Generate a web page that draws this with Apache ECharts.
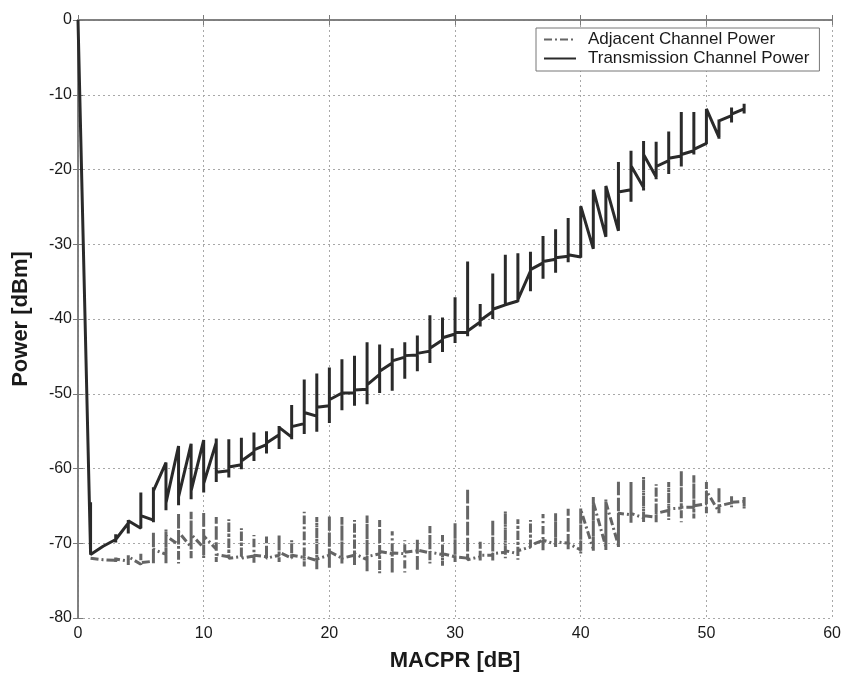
<!DOCTYPE html>
<html>
<head>
<meta charset="utf-8">
<script src="https://cdn.jsdelivr.net/npm/echarts@6/dist/echarts.min.js"></script>
<style>
  html, body { margin: 0; padding: 0; background: #fff; }
  #chart { width: 844px; height: 677px; }
</style>
</head>
<body>
<div id="chart"></div>
<script>
// MACPR steps (dB)
const tcX = [0, 1, 2, 3, 4, 5, 6, 7, 8, 9, 10, 11, 12, 13, 14, 15, 16, 17, 18, 19, 20,
  21, 22, 23, 24, 25, 26, 27, 28, 29, 30, 31, 32, 33, 34, 35, 36, 37, 38, 39, 40,
  41, 42, 43, 44, 45, 46, 47, 48, 49, 50, 51, 52, 53];
// transmission channel power: value arriving at step, spike top, spike bottom, value leaving
const tcIn = [0, -71.3, -70.4, -69.5, -67.3, -68.0, -66.9, -59.2, -57.0, -56.7, -56.2,
  -56.5, -60.3, -59.5, -57.8, -56.8, -55.5, -55.8, -54.0, -53.0, -51.6,
  -49.9, -49.9, -49.4, -47.4, -45.9, -45.1, -44.8, -44.3, -42.8, -42.0,
  -41.8, -40.4, -39.0, -38.1, -37.6, -33.6, -32.5, -32.0, -31.6, -31.7,
  -30.6, -29.0, -28.2, -22.7, -22.4, -21.0, -18.8, -18.2, -17.5, -16.5,
  -15.7, -12.8, -11.9];
const tcHi = [0, -64.5, -70.4, -68.8, -66.9, -63.2, -62.5, -59.2, -57.0, -56.7, -56.2,
  -56.0, -56.1, -55.9, -55.2, -55.0, -54.3, -51.5, -48.1, -47.3, -46.5,
  -45.4, -44.9, -43.1, -43.4, -43.9, -43.1, -42.2, -39.5, -39.8, -37.1,
  -32.3, -38.0, -33.9, -31.4, -31.2, -31.0, -28.9, -28.0, -26.5, -24.9,
  -22.7, -22.2, -19.0, -17.5, -16.2, -16.3, -14.9, -12.3, -12.3, -11.9,
  -13.3, -11.7, -11.2];
const tcLo = [0, -71.5, -70.4, -69.9, -68.7, -68.0, -67.2, -65.6, -64.9, -64.1, -63.2,
  -61.8, -61.2, -60.1, -59.0, -58.0, -57.4, -56.1, -55.4, -55.1, -53.9,
  -52.2, -51.6, -51.4, -49.9, -49.6, -48.0, -47.0, -45.9, -44.4, -43.2,
  -42.3, -41.0, -40.0, -38.1, -37.7, -36.3, -34.6, -33.8, -32.4, -31.8,
  -30.6, -29.0, -28.2, -24.3, -22.8, -21.3, -20.6, -19.6, -18.0, -16.6,
  -15.9, -13.7, -12.5];
const tcOut = [0, -71.3, -70.4, -69.5, -67.0, -66.3, -63.0, -64.6, -63.8, -63.0, -62.0,
  -60.5, -59.8, -59.0, -57.5, -56.6, -54.5, -54.4, -52.5, -51.8, -50.8,
  -49.9, -49.5, -48.8, -47.0, -45.6, -44.9, -44.6, -43.9, -42.5, -41.8,
  -41.6, -40.2, -38.7, -37.9, -37.4, -33.4, -32.3, -31.8, -31.4, -24.9,
  -22.7, -22.2, -23.0, -19.5, -18.0, -19.6, -18.5, -18.0, -17.3, -11.9,
  -13.5, -12.6, -11.7];

// adjacent channel power, steps 1..53
const acX = tcX.slice(1);
const acIn = [-72.0, -72.2, -72.3, -72.4, -72.8, -72.4, -71.5, -70.2, -70.5, -70.6,
  -70.8, -71.8, -71.8, -71.7, -71.8, -71.6, -72.0, -71.9, -72.3, -71.6,
  -72.0, -71.6, -72.2, -71.4, -71.4, -71.4, -71.0, -71.3, -71.5, -71.8,
  -72.0, -71.8, -71.6, -71.2, -71.4, -70.5, -69.6, -70.1, -70.0, -70.9,
  -70.8, -70.5, -70.3, -66.2, -66.6, -66.5, -65.6, -65.3, -65.2, -64.7,
  -65.8, -64.6, -64.4];
const acHi = [-72.0, -72.0, -71.9, -71.6, -71.4, -68.5, -68.1, -66.0, -65.8, -65.8,
  -66.5, -66.8, -68.0, -68.9, -69.1, -68.9, -69.6, -65.8, -66.5, -66.3,
  -66.5, -66.9, -66.3, -66.9, -68.4, -69.6, -69.4, -67.7, -68.9, -67.3,
  -62.7, -69.8, -66.9, -65.7, -66.8, -66.9, -66.1, -66.0, -65.4, -65.2,
  -63.8, -64.1, -61.6, -61.8, -61.1, -62.1, -61.8, -60.3, -60.9, -61.8,
  -62.5, -63.6, -63.8];
const acLo = [-72.0, -72.4, -72.5, -72.9, -72.9, -72.7, -72.7, -72.7, -72.0, -72.0,
  -72.5, -72.0, -72.0, -72.7, -72.0, -72.5, -72.0, -73.1, -73.6, -73.4,
  -72.7, -73.1, -73.8, -74.0, -74.0, -73.9, -73.7, -72.7, -73.0, -72.5,
  -72.2, -72.3, -72.3, -72.0, -72.2, -70.7, -71.1, -70.5, -70.9, -71.4,
  -71.1, -70.9, -70.5, -67.4, -67.2, -67.2, -66.9, -67.2, -66.7, -66.0,
  -66.0, -65.2, -65.4];
const acOut = [-72.0, -72.2, -72.1, -71.8, -72.6, -70.8, -69.0, -68.5, -68.8, -69.0,
  -71.5, -71.8, -71.8, -71.6, -71.8, -71.2, -71.6, -71.8, -72.1, -71.1,
  -72.0, -71.4, -71.8, -71.1, -71.3, -71.2, -70.9, -71.2, -71.4, -71.8,
  -72.0, -71.6, -71.4, -71.0, -71.0, -70.3, -69.6, -69.8, -70.0, -65.5,
  -64.5, -64.5, -66.0, -66.0, -66.3, -66.0, -65.4, -65.2, -65.0, -63.0,
  -65.0, -64.5, -64.3];

const xTicks = { min: 0, max: 60, interval: 10 };
const yTicks = { min: -80, max: 0, interval: 10 };

function trace(xs, a, hi, lo, b) {
  const pts = [];
  xs.forEach(function (x, i) {
    pts.push([x, a[i]], [x, hi[i]], [x, lo[i]], [x, b[i]]);
  });
  return pts;
}

const chart = echarts.init(document.getElementById('chart'));
const labelFont = { color: '#1a1a1a', fontSize: 16, fontFamily: 'Liberation Sans' };
const gridLine = { show: true, lineStyle: { color: '#a8a8a8', type: [2, 3], width: 1 } };

chart.setOption({
  animation: false,
  backgroundColor: '#fff',
  grid: { left: 78, right: 8, top: 20, bottom: 57, show: false },
  legend: {
    orient: 'vertical',
    left: 536,
    top: 28,
    backgroundColor: '#fff',
    borderColor: '#777',
    borderWidth: 1,
    padding: [3, 10, 4, 7],
    itemGap: 2,
    itemWidth: 32,
    itemHeight: 18,
    itemStyle: { opacity: 0 },
    textStyle: { color: '#1a1a1a', fontSize: 17, fontFamily: 'Liberation Sans', padding: [0, 0, 0, 7] },
    data: ['Adjacent Channel Power', 'Transmission Channel Power']
  },
  xAxis: [
    {
      type: 'value',
      min: xTicks.min, max: xTicks.max, interval: xTicks.interval,
      name: 'MACPR [dB]',
      nameLocation: 'middle',
      nameGap: 32,
      nameTextStyle: { fontSize: 22, fontWeight: 'bold', color: '#1a1a1a', fontFamily: 'Liberation Sans' },
      axisLine: { lineStyle: { color: '#7a7a7a', width: 1.5 } },
      axisTick: { inside: true, length: 5, lineStyle: { color: '#7a7a7a' } },
      axisLabel: Object.assign({ margin: 8 }, labelFont),
      splitLine: gridLine
    },
    {
      type: 'value', position: 'top',
      min: xTicks.min, max: xTicks.max, interval: xTicks.interval,
      axisLine: { lineStyle: { color: '#7a7a7a', width: 1.5 } },
      axisTick: { inside: true, length: 5, lineStyle: { color: '#7a7a7a' } },
      axisLabel: { show: false },
      splitLine: { show: false }
    }
  ],
  yAxis: [
    {
      type: 'value',
      min: yTicks.min, max: yTicks.max, interval: yTicks.interval,
      name: 'Power [dBm]',
      nameLocation: 'middle',
      nameGap: 46,
      nameTextStyle: { fontSize: 22, fontWeight: 'bold', color: '#1a1a1a', fontFamily: 'Liberation Sans' },
      axisLine: { show: true, lineStyle: { color: '#7a7a7a', width: 1.5 } },
      axisTick: { show: true, inside: true, length: 5, lineStyle: { color: '#7a7a7a' } },
      axisLabel: Object.assign({ margin: 6 }, labelFont),
      splitLine: gridLine
    },
    {
      type: 'value', position: 'right',
      min: yTicks.min, max: yTicks.max, interval: yTicks.interval,
      axisLine: { show: true, lineStyle: { color: '#7a7a7a', width: 1.5 } },
      axisTick: { show: true, inside: true, length: 5, lineStyle: { color: '#7a7a7a' } },
      axisLabel: { show: false },
      splitLine: { show: false }
    }
  ],
  series: [
    {
      name: 'Adjacent Channel Power',
      type: 'line',
      symbol: 'none',
      data: trace(acX, acIn, acHi, acLo, acOut),
      color: '#656565',
      lineStyle: { color: '#656565', width: 3, type: [8, 3, 2, 3] },
      z: 2
    },
    {
      name: 'Transmission Channel Power',
      type: 'line',
      symbol: 'none',
      data: trace(tcX, tcIn, tcHi, tcLo, tcOut),
      color: '#2a2a2a',
      lineStyle: { color: '#2a2a2a', width: 3 },
      z: 3
    }
  ]
});
</script>
</body>
</html>
